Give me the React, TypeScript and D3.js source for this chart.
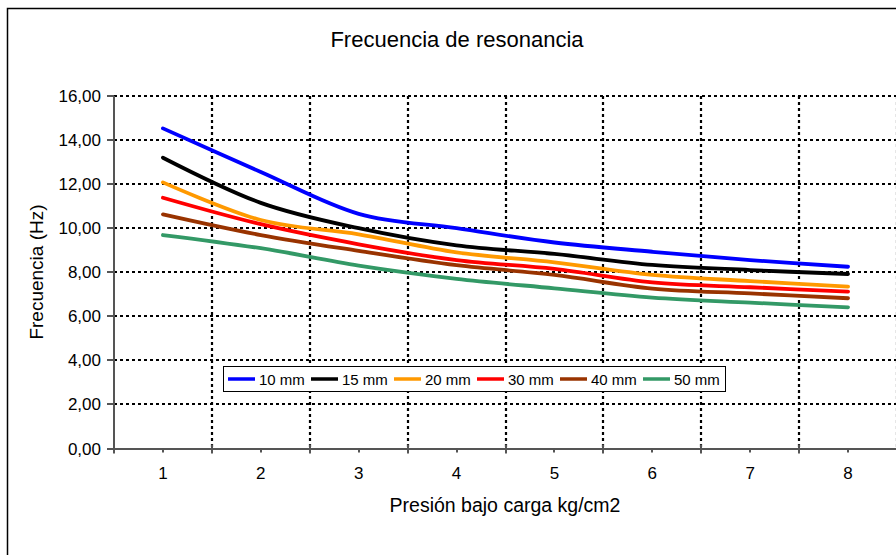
import React from 'react';
import * as d3 from 'd3';

// presión bajo carga (kg/cm2), eje de categorías
const presion = [1, 2, 3, 4, 5, 6, 7, 8];
const yTicks = [0, 2, 4, 6, 8, 10, 12, 14, 16];

const series = ['10 mm', '15 mm', '20 mm', '30 mm', '40 mm', '50 mm'];
const colores = ['#0000ff', '#000000', '#ff9900', '#ff0000', '#993300', '#339966'];

const f10 = [14.53, 12.55, 10.65, 10.0, 9.35, 8.93, 8.55, 8.25];
const f15 = [13.2, 11.15, 10.0, 9.22, 8.83, 8.33, 8.1, 7.92];
const f20 = [12.08, 10.37, 9.72, 8.9, 8.45, 7.88, 7.6, 7.35];
const f30 = [11.38, 10.18, 9.27, 8.55, 8.15, 7.54, 7.32, 7.12];
const f40 = [10.63, 9.69, 8.97, 8.32, 7.88, 7.26, 7.04, 6.82];
const f50 = [9.69, 9.09, 8.3, 7.7, 7.27, 6.85, 6.62, 6.41];

const valores = [f10, f15, f20, f30, f40, f50];

const FONT = '"Liberation Sans", Arial, sans-serif';

export default function App() {
  const x = d3.scaleLinear().domain([0.5, 8.5]).range([114, 897]);
  const y = d3.scaleLinear().domain([0, 16]).range([448.5, 96]);

  const linea = d3.line<number>()
    .x((d, i) => x(presion[i]))
    .y(d => y(d))
    .curve(d3.curveCardinal.tension(0));

  const limites = d3.range(1.5, 9, 1); // 1.5 ... 8.5
  const fmt = (v: number) => v.toFixed(2).replace('.', ',');
  const r = (v: number) => Math.round(v);

  return (
    <svg width={896} height={555} style={{ position: 'absolute', left: 0, top: 0, background: '#fff' }}>
      <rect x={7.5} y={8.5} width={920} height={580} fill="#fff" stroke="#000" strokeWidth={1.5} />

      <text x={457} y={47} textAnchor="middle" fontFamily={FONT} fontSize={22} fill="#000">
        Frecuencia de resonancia
      </text>

      {/* rejilla */}
      <g stroke="#000" strokeWidth={2.2} strokeDasharray="3,3">
        {yTicks.filter(t => t > 0).map(t => (
          <line key={'h' + t} x1={x(0.5)} x2={x(8.5)} y1={r(y(t))} y2={r(y(t))} />
        ))}
        {limites.map(v => (
          <line key={'v' + v} x1={r(x(v))} x2={r(x(v))} y1={y(16)} y2={y(0)} />
        ))}
      </g>

      {/* ejes */}
      <g stroke="#555" strokeWidth={2}>
        <line x1={x(0.5)} x2={x(0.5)} y1={y(16)} y2={y(0)} />
        <line x1={x(0.5)} x2={x(8.5)} y1={r(y(0))} y2={r(y(0))} />
        {yTicks.map(t => (
          <line key={'yt' + t} x1={x(0.5) - 7} x2={x(0.5)} y1={r(y(t))} y2={r(y(t))} />
        ))}
        {[0.5, ...limites].map(v => (
          <line key={'xt' + v} x1={r(x(v))} x2={r(x(v))} y1={y(0) - 4} y2={y(0) + 5} />
        ))}
        {presion.map(p => (
          <line key={'xm' + p} x1={r(x(p))} x2={r(x(p))} y1={y(0)} y2={y(0) + 4} />
        ))}
      </g>

      <g fontFamily={FONT} fontSize={17} fill="#000">
        {yTicks.map(t => (
          <text key={'yl' + t} x={101} y={y(t) + 6} textAnchor="end">{fmt(t)}</text>
        ))}
        {presion.map(p => (
          <text key={'xl' + p} x={x(p)} y={479} textAnchor="middle">{p}</text>
        ))}
      </g>

      <text x={505} y={512} textAnchor="middle" fontFamily={FONT} fontSize={19.5} fill="#000">
        Presión bajo carga kg/cm2
      </text>
      <text transform="translate(43,272) rotate(-90)" textAnchor="middle" fontFamily={FONT} fontSize={19} fill="#000">
        Frecuencia (Hz)
      </text>

      {/* series */}
      <g fill="none" strokeWidth={3.8} strokeLinecap="round" strokeLinejoin="round">
        {valores.map((v, i) => (
          <path key={series[i]} d={linea(v) || ''} stroke={colores[i]} />
        ))}
      </g>

      {/* leyenda */}
      <g fontFamily={FONT} fontSize={15}>
        <rect x={223.5} y={366.5} width={502} height={25} fill="#fff" stroke="#000" strokeWidth={1} />
        {series.map((s, i) => {
          const lx = 228 + i * 83;
          return (
            <g key={'lg' + s}>
              <line x1={lx} x2={lx + 27} y1={379} y2={379} stroke={colores[i]} strokeWidth={3.5} />
              <text x={lx + 31} y={384.5} fill="#000">{s}</text>
            </g>
          );
        })}
      </g>
    </svg>
  );
}
